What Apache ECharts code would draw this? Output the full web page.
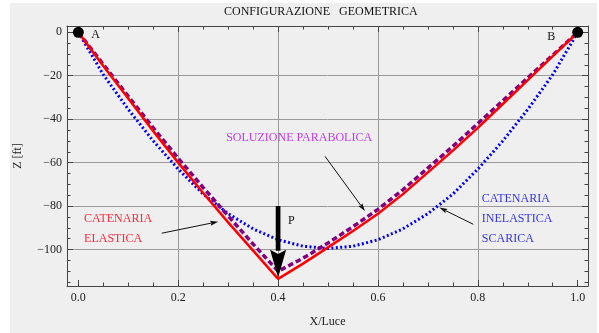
<!DOCTYPE html>
<html><head><meta charset="utf-8">
<script src="https://cdn.jsdelivr.net/npm/echarts@6/dist/echarts.min.js"></script>
<style>html,body{margin:0;padding:0;background:#fff}#c{width:599px;height:333px}</style>
</head><body><div id="c"></div>
<script>
// ---- data ----
const xPos = [0, 0.05, 0.1, 0.15, 0.2, 0.25, 0.3, 0.35, 0.4, 0.45, 0.5, 0.55, 0.6, 0.65, 0.7, 0.75, 0.8, 0.85, 0.9, 0.95, 1];
const catenariaElastica = [0, -15.5, -30.5, -45.5, -60, -74, -87.5, -100.5, -113.5, -106.5, -99, -91.5, -83.5, -74.5, -64.5, -54.5, -44, -33, -22, -11, 0];
const soluzioneParabolica = [0, -14.8, -29.5, -44, -58, -71.5, -84.5, -97.5, -110, -104, -97, -89.5, -81.5, -72.5, -62.5, -52.5, -42, -31.5, -21, -10.5, 0];
const catenariaInelastica = [0, -19.5, -35.5, -50, -63, -74.5, -83.5, -90.5, -95.5, -98.5, -99.5, -98.5, -95.5, -90.5, -83.5, -74.5, -63, -50, -35.5, -19.5, 0];
const supportX = [0, 1];
const supportZ = [0, 0];
const supportNames = ['A', 'B'];
const loadName = 'P';
const loadX = 0.4;
const loadFromZ = -80;
const loadToZ = -113;
const xMajor = [0, 0.2, 0.4, 0.6, 0.8, 1];
const xMinor = [0.05, 0.1, 0.15, 0.25, 0.3, 0.35, 0.45, 0.5, 0.55, 0.65, 0.7, 0.75, 0.85, 0.9, 0.95];
const xGrid = [0.2, 0.4, 0.6, 0.8];
const yMajor = [0, -20, -40, -60, -80, -100];
const yMinor = [-5, -10, -15, -25, -30, -35, -45, -50, -55, -65, -70, -75, -85, -90, -95, -105, -110, -115];
const yGrid = [-20, -40, -60, -80, -100];
const titleText = 'CONFIGURAZIONE   GEOMETRICA';
const xName = 'X/Luce';
const yName = 'Z [ft]';
const labelParabolica = ['SOLUZIONE PARABOLICA'];
const labelElastica = ['CATENARIA', 'ELASTICA'];
const labelInelastica = ['CATENARIA', 'INELASTICA', 'SCARICA'];

// ---- layout / style ----
const FONT = '"Liberation Serif", "Times New Roman", serif';
const xMin = -0.0227, xMax = 1.0206, yMin = -116.8, yMax = 2.9;
const frameColor = '#444';
const pairs = a => xPos.map((x, i) => [x, a[i]]);
const fmtY = v => v < 0 ? '\u2212' + Math.abs(v) : String(v);

function xAxis(pos, ticks, len, opts) {
  opts = opts || {};
  return Object.assign({
    type: 'value', min: xMin, max: xMax, position: pos,
    axisLine: { show: !!opts.line, onZero: false, lineStyle: { color: frameColor, width: 1 } },
    axisTick: { show: len > 0, inside: true, length: len, customValues: ticks, lineStyle: { color: frameColor, width: 1 } },
    axisLabel: { show: !!opts.label, customValues: ticks, margin: 6, formatter: v => v.toFixed(1),
      color: '#222', fontSize: 12, fontFamily: FONT },
    splitLine: { show: !!opts.grid, lineStyle: { color: '#9a9a9a', width: 1 } }
  }, opts.extra || {});
}
function yAxis(pos, ticks, len, opts) {
  opts = opts || {};
  return Object.assign({
    type: 'value', min: yMin, max: yMax, position: pos,
    axisLine: { show: !!opts.line, onZero: false, lineStyle: { color: frameColor, width: 1 } },
    axisTick: { show: len > 0, inside: true, length: len, customValues: ticks, lineStyle: { color: frameColor, width: 1 } },
    axisLabel: { show: !!opts.label, customValues: ticks, margin: 5, formatter: fmtY,
      color: '#222', fontSize: 12, fontFamily: FONT },
    splitLine: { show: !!opts.grid, lineStyle: { color: '#9a9a9a', width: 1 } }
  }, opts.extra || {});
}

const chart = echarts.init(document.getElementById('c'), null, { renderer: 'canvas' });
chart.setOption({
  animation: false,
  backgroundColor: '#efefef',
  title: { text: titleText, left: 224, top: 6, padding: 0,
    textStyle: { fontSize: 12, fontWeight: 'normal', fontFamily: FONT, color: '#111' } },
  grid: { left: 67, top: 26, right: 11, bottom: 46, containLabel: false },
  xAxis: [
    xAxis('bottom', xMajor, 6, { line: true, label: true, extra: {
      name: xName, nameLocation: 'middle', nameGap: 30,
      nameTextStyle: { fontSize: 12, fontFamily: FONT, color: '#222' } } }),
    xAxis('bottom', xMinor, 3.5),
    xAxis('top', xMajor, 6, { line: true }),
    xAxis('top', xMinor, 3.5),
    xAxis('bottom', xGrid, 0, { grid: true })
  ],
  yAxis: [
    yAxis('left', yMajor, 6, { line: true, label: true, extra: {
      name: yName, nameLocation: 'middle', nameGap: 43,
      nameTextStyle: { fontSize: 12, fontFamily: FONT, color: '#222' } } }),
    yAxis('left', yMinor, 3.5),
    yAxis('right', yMajor, 6, { line: true }),
    yAxis('right', yMinor, 3.5),
    yAxis('left', yGrid, 0, { grid: true })
  ],
  series: [
    { name: 'Catenaria inelastica scarica', type: 'line', data: pairs(catenariaInelastica),
      showSymbol: false, smooth: false, z: 3,
      lineStyle: { color: '#0000ff', width: 3, type: [2, 2.4], cap: 'butt' } },
    { name: 'Soluzione parabolica', type: 'line', data: pairs(soluzioneParabolica),
      showSymbol: false, z: 4,
      lineStyle: { color: '#800080', width: 3.5, type: [5.5, 3], cap: 'butt' } },
    { name: 'Catenaria elastica', type: 'line', data: pairs(catenariaElastica),
      showSymbol: false, z: 5,
      lineStyle: { color: '#ff0000', width: 2.5 } },
    { name: 'Appoggi', type: 'scatter', data: supportX.map((x, i) => [x, supportZ[i]]),
      symbolSize: 11, z: 8, itemStyle: { color: '#000', opacity: 1 } }
  ]
});

// ---- annotations positioned through the chart's own scales ----
const P = (x, z) => chart.convertToPixel({ xAxisIndex: 0, yAxisIndex: 0 }, [x, z]);
const annoTexts = [
  { lines: labelParabolica, at: [0.296, -48.6], color: '#c23cf2' },
  { lines: labelElastica, at: [0.0115, -85.8], color: '#ff2a3a' },
  { lines: labelInelastica, at: [0.808, -76.6], color: '#3434f4' },
  { lines: [supportNames[0]], at: [0.026, -1.3], color: '#111' },
  { lines: [supportNames[1]], at: [0.939, -2.2], color: '#111' },
  { lines: [loadName], at: [0.42, -86.6], color: '#111' }
];
const annoArrows = [
  { from: [0.494, -57.1], to: [0.574, -82.3] },
  { from: [0.167, -92.5], to: [0.280, -87.2] },
  { from: [0.791, -88.4], to: [0.723, -80.7] }
];
const graphics = [
  { type: 'rect', shape: { x: 0, y: 0, width: 10, height: 333 }, style: { fill: '#fff' }, z: 100 },
  { type: 'rect', shape: { x: 0, y: 0, width: 599, height: 3 }, style: { fill: '#fff' }, z: 100 },
  { type: 'rect', shape: { x: 597, y: 0, width: 2, height: 333 }, style: { fill: '#fff' }, z: 100 }
];
annoTexts.forEach(t => {
  const p = P(t.at[0], t.at[1]);
  graphics.push({ type: 'text', x: p[0], y: p[1] - 10, z: 50,
    style: { text: t.lines.join('\n'), fill: t.color, font: '12px ' + FONT, lineHeight: 20, verticalAlign: 'top', align: 'left' } });
});
function arrow(a, b, w, headLen, headW, color) {
  const dx = b[0] - a[0], dy = b[1] - a[1], L = Math.hypot(dx, dy);
  const ux = dx / L, uy = dy / L, nx = -uy, ny = ux;
  const base = [b[0] - ux * headLen, b[1] - uy * headLen];
  graphics.push({ type: 'line', z: 60, shape: { x1: a[0], y1: a[1], x2: base[0] + ux * 1, y2: base[1] + uy * 1 },
    style: { stroke: color, lineWidth: w } });
  graphics.push({ type: 'polygon', z: 61, shape: { points: [
    [b[0], b[1]], [base[0] + nx * headW / 2, base[1] + ny * headW / 2], [base[0] + ux * headLen * 0.15, base[1] + uy * headLen * 0.15], [base[0] - nx * headW / 2, base[1] - ny * headW / 2]] },
    style: { fill: color } });
}
annoArrows.forEach(r => arrow(P(r.from[0], r.from[1]), P(r.to[0], r.to[1]), 1, 8, 5, '#111'));
arrow(P(loadX, loadFromZ), P(loadX, loadToZ), 4.7, 28, 16, '#000');
chart.setOption({ graphic: graphics });
</script></body></html>
